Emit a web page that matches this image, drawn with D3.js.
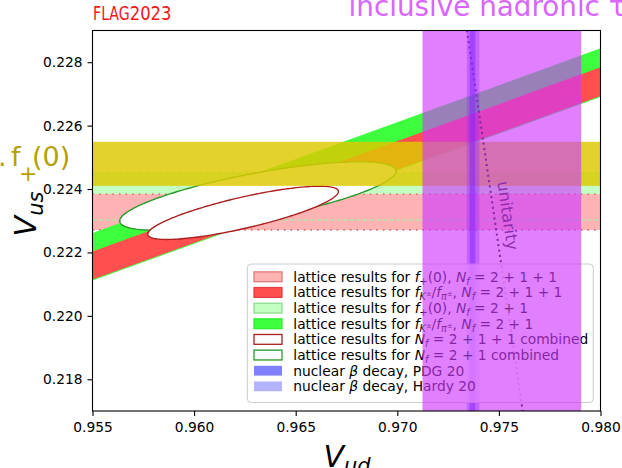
<!DOCTYPE html>
<html>
<head>
<meta charset="utf-8">
<script src="https://cdn.jsdelivr.net/npm/d3@7"></script>
<style>
  body { margin: 0; background: #fff; }
  svg { display: block; font-family: "DejaVu Sans", sans-serif; }
</style>
</head>
<body>
<svg id="chart" width="622" height="468"></svg>
<script>
// ---- axes ----
const vudDomain = [0.955, 0.980];
const vusDomain = [0.217, 0.229];
const vudTicks = [0.955, 0.960, 0.965, 0.970, 0.975, 0.980];
const vusTicks = [0.218, 0.220, 0.222, 0.224, 0.226, 0.228];

// ---- |Vus| from f+(0), [low, high] ----
const fplus211 = [0.22271, 0.22384];
const fplus21 = [0.22302, 0.22451];
// extra f+(0) band
const kl3Band = [0.22410, 0.22549];

// ---- |Vus/Vud| from fK/fpi, [low, high] ----
const ratio211 = [0.231565, 0.232489];
const ratio21 = [0.231534, 0.233101];

// ---- combined fits: centre, widths and correlation ----
const comb211 = { vud: 0.96241, vus: 0.22325, sVud: 0.00469, sVus: 0.00084, rho: 0.80 };
const comb21 = { vud: 0.96314, vus: 0.22378, sVud: 0.00680, sVus: 0.00108, rho: 0.73 };

// ---- |Vud| from nuclear beta decay, [central, error] ----
const betaPDG = [0.97370, 0.00014];
const betaHardy = [0.97373, 0.00031];

// ---- |Vud| range, inclusive hadronic tau ----
const tauBand = [0.97124, 0.97905];

// ---- first-row unitarity, end points [Vud, Vus] ----
const unitarity = [[0.97343, 0.229], [0.97617, 0.217]];

// ---- legend entries ----
const legendLabels = [
  "lattice results for $f_+(0)$, $N_f = 2 + 1 + 1$",
  "lattice results for $f_{K^±}/f_{π^±}$, $N_f = 2 + 1 + 1$",
  "lattice results for $f_+(0)$, $N_f = 2 + 1$",
  "lattice results for $f_{K^±}/f_{π^±}$, $N_f = 2 + 1$",
  "lattice results for $N_f = 2 + 1 + 1$ combined",
  "lattice results for $N_f = 2 + 1$ combined",
  "nuclear $β$ decay, PDG 20",
  "nuclear $β$ decay, Hardy 20"
];
const legendSwatches = [
  { fill: "#ffb3b3", stroke: "#e07a7a" },
  { fill: "#ff4f4f", stroke: "#e84040" },
  { fill: "#c4ffc4", stroke: "#8fdc8f" },
  { fill: "#3dff3d", stroke: "#33ee33" },
  { fill: "#ffffff", stroke: "#aa2020" },
  { fill: "#ffffff", stroke: "#2a9a2a" },
  { fill: "#8080ff", stroke: "none" },
  { fill: "#b3b3ff", stroke: "none" }
];

const svg = d3.select("#chart");
const plot = { left: 92.5, right: 600.5, top: 30.5, bottom: 411 };

const x = d3.scaleLinear().domain(vudDomain).range([plot.left, plot.right]);
const y = d3.scaleLinear().domain(vusDomain).range([plot.bottom, plot.top]);

svg.append("defs").append("clipPath").attr("id", "plotclip")
  .append("rect")
  .attr("x", plot.left).attr("y", plot.top)
  .attr("width", plot.right - plot.left).attr("height", plot.bottom - plot.top);

const g = svg.append("g").attr("clip-path", "url(#plotclip)");

// small math-text renderer: $...$ segments get italic letters and sub/superscripts
function mathParts(src, size, shift, out) {
  let i = 0;
  while (i < src.length) {
    const c = src[i];
    if (c === "_" || c === "^") {
      i++;
      let grp;
      if (src[i] === "{") {
        let depth = 1, j = i + 1;
        while (depth) { if (src[j] === "{") depth++; else if (src[j] === "}") depth--; j++; }
        grp = src.slice(i + 1, j - 1); i = j;
      } else { grp = src[i]; i++; }
      const ns = size * 0.7;
      const nsh = c === "_" ? shift + size * 0.22 : shift - size * 0.42;
      mathParts(grp, ns, nsh, out);
      continue;
    }
    const it = /[A-Za-zα-ω]/.test(c);
    const last = out[out.length - 1];
    if (last && last.size === size && last.shift === shift && last.it === it) last.t += c;
    else out.push({ t: c, size, shift, it });
    i++;
  }
  return out;
}
function richText(sel, src, size) {
  const parts = [];
  src.split("$").forEach((seg, k) => {
    if (k % 2 === 0) { if (seg) parts.push({ t: seg, size, shift: 0, it: false }); }
    else mathParts(seg, size, 0, parts);
  });
  let cur = 0;
  sel.attr("xml:space", "preserve").style("white-space", "pre");
  parts.forEach(p => {
    sel.append("tspan")
      .attr("dy", (p.shift - cur).toFixed(2))
      .attr("font-size", p.size)
      .attr("font-style", p.it ? "italic" : "normal")
      .text(p.t);
    cur = p.shift;
  });
  return sel;
}

// horizontal bands from f+(0)
function hBand(r, fill, op) {
  g.append("rect")
    .attr("x", plot.left).attr("width", plot.right - plot.left)
    .attr("y", y(r[1])).attr("height", y(r[0]) - y(r[1]))
    .attr("fill", fill).attr("fill-opacity", op);
}
hBand(fplus21, "#c4ffc4", 1);
hBand(fplus211, "#ffb3b3", 1);

function hLine(v, color, dash, w) {
  g.append("line")
    .attr("x1", plot.left).attr("x2", plot.right)
    .attr("y1", y(v)).attr("y2", y(v))
    .attr("stroke", color).attr("stroke-width", w).attr("stroke-dasharray", dash);
}
fplus21.forEach(v => hLine(v, "#b4e4ac", "4,2.6", 1.5));
fplus211.forEach(v => hLine(v, "#d55a5a", "1.6,5", 1.4));

// diagonal bands: constant Vus/Vud
function ratioBand(r, fill) {
  const pts = [
    [vudDomain[0], r[0] * vudDomain[0]], [vudDomain[1], r[0] * vudDomain[1]],
    [vudDomain[1], r[1] * vudDomain[1]], [vudDomain[0], r[1] * vudDomain[0]]
  ];
  g.append("path")
    .attr("d", d3.line().x(d => x(d[0])).y(d => y(d[1]))(pts) + "Z")
    .attr("fill", fill);
}
ratioBand(ratio21, "#3dff3d");
ratioBand(ratio211, "#ff4f4f");

// combined-fit ellipses
function ellipse(e, stroke) {
  const pts = d3.range(0, 361, 2).map(a => {
    const t = a * Math.PI / 180;
    return [e.vud + e.sVud * Math.cos(t),
            e.vus + e.sVus * (e.rho * Math.cos(t) + Math.sqrt(1 - e.rho * e.rho) * Math.sin(t))];
  });
  g.append("path")
    .attr("d", d3.line().x(d => x(d[0])).y(d => y(d[1])).curve(d3.curveLinearClosed)(pts))
    .attr("fill", "#fff").attr("stroke", stroke).attr("stroke-width", 1.4);
}
ellipse(comb21, "#2a9a2a");
ellipse(comb211, "#aa2020");

// extra f+(0) band on top
hBand(kl3Band, "rgb(220,201,0)", 0.83);

// unitarity curve
g.append("path")
  .attr("d", d3.line().x(d => x(d[0])).y(d => y(d[1]))(unitarity))
  .attr("fill", "none").attr("stroke", "#000")
  .attr("stroke-width", 2).attr("stroke-dasharray", "2,3.4");
{
  const p0 = [x(unitarity[0][0]), y(unitarity[0][1])];
  const p1 = [x(unitarity[1][0]), y(unitarity[1][1])];
  const ang = Math.atan2(p1[1] - p0[1], p1[0] - p0[0]) * 180 / Math.PI;
  const ty = 182;
  const tx = p0[0] + (ty - p0[1]) * (p1[0] - p0[0]) / (p1[1] - p0[1]) + 8;
  svg.append("text")
    .attr("transform", `translate(${tx},${ty}) rotate(${ang})`)
    .attr("font-size", 16.5).attr("fill", "#1a1a1a")
    .text("unitarity");
}

// nuclear beta decay bands
function vBand(c, err, fill, op) {
  g.append("rect")
    .attr("x", x(c - err)).attr("width", x(c + err) - x(c - err))
    .attr("y", plot.top).attr("height", plot.bottom - plot.top)
    .attr("fill", fill).attr("fill-opacity", op);
}
vBand(betaHardy[0], betaHardy[1], "#0000ff", 0.3);
vBand(betaPDG[0], betaPDG[1], "#0000ff", 0.5);

// legend
const lg = svg.append("g");
lg.append("rect")
  .attr("x", 247.3).attr("y", 264).attr("width", 346).attr("height", 138.5)
  .attr("rx", 4).attr("fill", "#fff").attr("fill-opacity", 0.8)
  .attr("stroke", "#cccccc").attr("stroke-width", 1);
legendLabels.forEach((lab, k) => {
  const cy = 276.8 + k * 15.65;
  const sw = legendSwatches[k];
  lg.append("rect")
    .attr("x", 254).attr("y", cy - 4.9).attr("width", 28).attr("height", 9.8)
    .attr("fill", sw.fill).attr("stroke", sw.stroke).attr("stroke-width", 1.3);
  richText(lg.append("text").attr("x", 293.3).attr("y", cy + 5).attr("fill", "#000"), lab, 13.8);
});

// inclusive hadronic tau band on top
svg.append("rect")
  .attr("x", x(tauBand[0])).attr("width", x(tauBand[1]) - x(tauBand[0]))
  .attr("y", plot.top).attr("height", plot.bottom - plot.top)
  .attr("fill", "rgb(206,56,255)").attr("fill-opacity", 0.64);

// frame and ticks
svg.append("rect")
  .attr("x", plot.left).attr("y", plot.top)
  .attr("width", plot.right - plot.left).attr("height", plot.bottom - plot.top)
  .attr("fill", "none").attr("stroke", "#000").attr("stroke-width", 1.1);
const xAxis = d3.axisBottom(x).tickValues(vudTicks).tickFormat(d3.format(".3f")).tickSize(5).tickPadding(6);
const yAxis = d3.axisLeft(y).tickValues(vusTicks).tickFormat(d3.format(".3f")).tickSize(5).tickPadding(5);
function styleAxis(sel) {
  sel.select(".domain").remove();
  sel.selectAll("line").attr("stroke", "#000").attr("stroke-width", 1.1);
  sel.selectAll("text").attr("font-size", 13.8).attr("font-family", "DejaVu Sans").attr("fill", "#000");
}
svg.append("g").attr("transform", `translate(0,${plot.bottom})`).call(xAxis).call(styleAxis);
svg.append("g").attr("transform", `translate(${plot.left},0)`).call(yAxis).call(styleAxis);

// axis titles
richText(svg.append("text").attr("x", 347).attr("y", 466.5).attr("text-anchor", "middle"), "$V_{ud}$", 30);
richText(svg.append("text").attr("transform", "translate(36,214) rotate(-90)").attr("text-anchor", "middle"), "$V_{us}$", 30);

// annotations
const flag = svg.append("text").attr("x", 93).attr("y", 20).attr("fill", "#f01818").attr("font-size", 19);
flag.append("tspan").attr("textLength", 36.7).attr("lengthAdjust", "spacingAndGlyphs").text("FLAG");
flag.append("tspan").attr("textLength", 41.8).attr("lengthAdjust", "spacingAndGlyphs").text("2023");

svg.append("text").attr("x", 348.6).attr("y", 15.5).attr("font-size", 27.8).attr("fill", "#d866ff")
  .text("inclusive hadronic τ decays");

const fp = svg.append("g").attr("fill", "#b5a000");
fp.append("text").attr("x", -2).attr("y", 166).attr("font-size", 27).text(".");
fp.append("text").attr("x", 11).attr("y", 166).attr("font-size", 27).text("f");
fp.append("text").attr("x", 19).attr("y", 181).attr("font-size", 22).text("+");
fp.append("text").attr("x", 32).attr("y", 166).attr("font-size", 27).text("(0)");
</script>
</body>
</html>
